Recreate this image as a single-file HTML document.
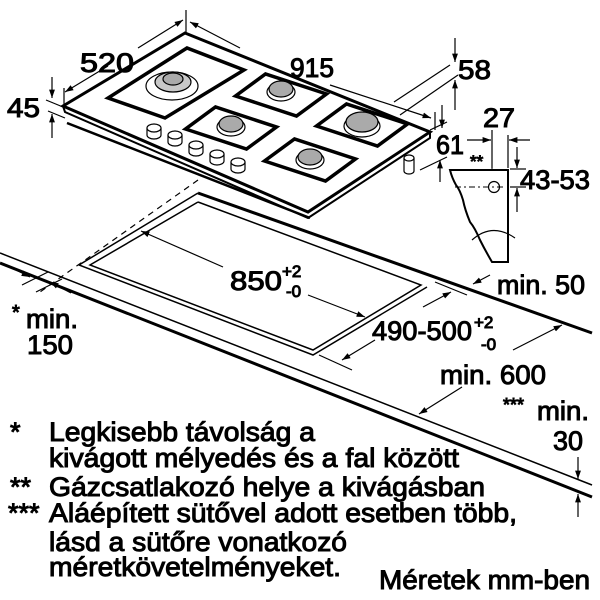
<!DOCTYPE html>
<html><head><meta charset="utf-8"><style>
html,body{margin:0;padding:0;background:#fff;}
svg{display:block;}
text{font-family:"Liberation Sans",sans-serif;fill:#000;}
</style></head><body>
<svg width="600" height="600" viewBox="0 0 600 600" xmlns="http://www.w3.org/2000/svg">
<defs>
<marker id="a" viewBox="0 0 10 10" refX="10" refY="5" markerWidth="7" markerHeight="7" orient="auto"><path d="M0,1.5 L10,5 L0,8.5 z" fill="#000"/></marker>
</defs>
<g fill="none" stroke="#000">
<line x1="0" y1="253" x2="592" y2="485" stroke-width="1.5"/>
<line x1="0" y1="263" x2="592" y2="497" stroke-width="3"/>
<line x1="198" y1="193" x2="592" y2="333" stroke-width="3"/>
<polyline points="198,193 79,265 313,355 427,287" stroke-width="1.5"/>
<polyline points="198,202 90,265 313,350 421,285 198,202" stroke-width="1.5"/>
<line x1="198" y1="180" x2="40" y2="292" stroke-dasharray="6,5" stroke-width="1.2"/>
<polygon points="185,33 430,132 308,212 63,106" stroke-width="3" fill="#fff"/>
<polyline points="63,106 65,112 308,218 430,138 430,132" stroke-width="2"/>
<line x1="67" y1="123" x2="310" y2="218" stroke-width="2.5"/>
<g stroke-width="3.5" fill="none">
<polygon points="108,98 165,118 244,70 187,48"/>
<polygon points="235.5,96 296.5,116 326.5,94 265.5,74"/>
<polygon points="185.5,129 246.5,149 276.5,127 215.5,107"/>
<polygon points="316.5,126 377.5,146 407.5,124 346.5,104"/>
<polygon points="264.5,161 325.5,181 355.5,159 294.5,139"/>
</g>
<g stroke-width="1.2">
<ellipse cx="172" cy="86" rx="26" ry="14"/>
<ellipse cx="173" cy="82" rx="18" ry="10" fill="#c8c8c8"/>
<ellipse cx="173" cy="79" rx="10" ry="6" fill="#aaa"/>
<ellipse cx="281" cy="92" rx="14" ry="9" fill="#fff"/><ellipse cx="281" cy="89" rx="12" ry="8" fill="#aaa"/>
<ellipse cx="231" cy="127" rx="14" ry="9" fill="#fff"/><ellipse cx="231" cy="124" rx="12" ry="8" fill="#aaa"/>
<ellipse cx="362" cy="126" rx="18" ry="11" fill="#fff"/><ellipse cx="362" cy="122" rx="16" ry="10" fill="#aaa"/>
<ellipse cx="310" cy="160" rx="14" ry="9" fill="#fff"/><ellipse cx="310" cy="157" rx="12" ry="8" fill="#aaa"/>
</g>
<g stroke-width="1.2" fill="#fff">
<path d="M147,128 v7 a7,4 0 0 0 14,0 v-7"/><ellipse cx="154" cy="128" rx="7" ry="4"/>
<path d="M168,135 v7 a7,4 0 0 0 14,0 v-7"/><ellipse cx="175" cy="135" rx="7" ry="4"/>
<path d="M189,145 v7 a7,4 0 0 0 14,0 v-7"/><ellipse cx="196" cy="145" rx="7" ry="4"/>
<path d="M210,154 v7 a7,4 0 0 0 14,0 v-7"/><ellipse cx="217" cy="154" rx="7" ry="4"/>
<path d="M231,162 v7 a7,4 0 0 0 14,0 v-7"/><ellipse cx="238" cy="162" rx="7" ry="4"/>
<path d="M404,158 v13 a5,3 0 0 0 10,0 v-13"/><ellipse cx="409" cy="158" rx="5" ry="3"/>
</g>
<g stroke-width="1.2">
<line x1="108" y1="66" x2="65" y2="92" marker-end="url(#a)"/>
<line x1="138" y1="48" x2="183" y2="20" marker-end="url(#a)"/>
<line x1="186" y1="10" x2="186" y2="32"/><line x1="64" y1="88" x2="64" y2="104"/>
<line x1="240" y1="48" x2="190" y2="22" marker-end="url(#a)"/>
<line x1="330" y1="85" x2="431" y2="118" marker-end="url(#a)"/>
<line x1="435" y1="112" x2="435" y2="130"/>
<line x1="52" y1="77" x2="52" y2="98" marker-end="url(#a)"/>
<line x1="52" y1="138" x2="52" y2="114" marker-end="url(#a)"/>
<line x1="46" y1="100" x2="63" y2="107"/><line x1="48" y1="111" x2="65" y2="118"/>
<line x1="455" y1="38" x2="455" y2="62" marker-end="url(#a)"/>
<line x1="455" y1="110" x2="455" y2="80" marker-end="url(#a)"/>
<line x1="394" y1="102" x2="450" y2="65"/><line x1="400" y1="115" x2="458" y2="75"/>
<line x1="442" y1="105" x2="442" y2="128" marker-end="url(#a)"/>
<line x1="440" y1="182" x2="440" y2="160" marker-end="url(#a)"/>
<line x1="430" y1="130" x2="447" y2="122"/><line x1="420" y1="170" x2="447" y2="157"/>
<line x1="467" y1="140" x2="491" y2="140" marker-end="url(#a)"/>
<line x1="530" y1="140" x2="509" y2="140" marker-end="url(#a)"/>
<line x1="492" y1="130" x2="492" y2="168"/>
<line x1="492" y1="168" x2="492" y2="252" stroke-dasharray="8,3,2,3" stroke-width="1"/>
<line x1="508" y1="135" x2="508" y2="168"/>
<line x1="517" y1="147" x2="517" y2="168" marker-end="url(#a)"/>
<line x1="517" y1="212" x2="517" y2="188" marker-end="url(#a)"/>
<line x1="510" y1="169" x2="526" y2="169"/><line x1="510" y1="187" x2="526" y2="187"/>
<path d="M450,170 H508 V262 H492 Q485,250 480,240 Q475,228 470,222 Q465,210 463,200 Q460,190 456,185 Q452,178 450,170 Z" stroke-width="2" fill="#fff"/>
<circle cx="494" cy="187" r="5.5" fill="#fff"/>
<line x1="455" y1="187" x2="506" y2="187" stroke-dasharray="6,3,2,3" stroke-width="1"/>
<path d="M472,240 Q492,222 515,238" stroke-width="1.2"/>
<line x1="223" y1="267" x2="141" y2="231" marker-end="url(#a)"/>
<line x1="308" y1="295" x2="365" y2="317" marker-end="url(#a)"/>
<line x1="423" y1="307" x2="451" y2="292" marker-end="url(#a)"/>
<line x1="375" y1="340" x2="342" y2="360" marker-end="url(#a)"/>
<line x1="435" y1="282" x2="467" y2="295"/><line x1="319" y1="355" x2="352" y2="370"/>
<line x1="490" y1="275" x2="473" y2="284" marker-end="url(#a)"/>
<line x1="513" y1="350" x2="562" y2="325" marker-end="url(#a)"/>
<line x1="462" y1="387" x2="419" y2="414" marker-end="url(#a)"/>
<line x1="8" y1="266" x2="30" y2="277" marker-end="url(#a)"/>
<line x1="71" y1="293" x2="50" y2="282" marker-end="url(#a)"/>
<line x1="22" y1="285" x2="48" y2="272"/><line x1="36" y1="292" x2="62" y2="279"/>
<line x1="578" y1="457" x2="578" y2="479" marker-end="url(#a)"/>
<line x1="578" y1="517" x2="578" y2="494" marker-end="url(#a)"/>
</g>
<g font-size="27">
<text x="80" y="72" textLength="54" lengthAdjust="spacingAndGlyphs">520</text>
<text x="290" y="77" textLength="44" lengthAdjust="spacingAndGlyphs">915</text>
<text x="458" y="79" textLength="33" lengthAdjust="spacingAndGlyphs">58</text>
<text x="7" y="117" textLength="33" lengthAdjust="spacingAndGlyphs">45</text>
<text x="436" y="154" textLength="28" lengthAdjust="spacingAndGlyphs">61</text>
<text x="483" y="127" textLength="32" lengthAdjust="spacingAndGlyphs">27</text>
<text x="470" y="167" font-size="17">**</text>
<text x="520" y="189" textLength="70" lengthAdjust="spacingAndGlyphs">43-53</text>
<text x="230" y="290" textLength="52" lengthAdjust="spacingAndGlyphs">850</text><text x="282" y="277" font-size="17">+2</text><text x="286" y="297" font-size="17">-0</text>
<text x="497" y="294" textLength="88" lengthAdjust="spacingAndGlyphs">min. 50</text>
<text x="372" y="340" textLength="100" lengthAdjust="spacingAndGlyphs">490-500</text><text x="474" y="328" font-size="17">+2</text><text x="481" y="350" font-size="17">-0</text>
<text x="440" y="384" textLength="106" lengthAdjust="spacingAndGlyphs">min. 600</text>
<text x="12" y="319" font-size="20">*</text><text x="26" y="328" textLength="52" lengthAdjust="spacingAndGlyphs">min.</text>
<text x="27" y="354" textLength="46" lengthAdjust="spacingAndGlyphs">150</text>
<text x="503" y="411" font-size="18">***</text><text x="537" y="420" textLength="52" lengthAdjust="spacingAndGlyphs">min.</text>
<text x="553" y="450" textLength="30" lengthAdjust="spacingAndGlyphs">30</text>
<text x="10" y="441">*</text><text x="49" y="441" textLength="266" lengthAdjust="spacingAndGlyphs">Legkisebb távolság a</text>
<text x="49" y="467" textLength="410" lengthAdjust="spacingAndGlyphs">kivágott mélyedés és a fal között</text>
<text x="10" y="496">**</text><text x="49" y="496" textLength="436" lengthAdjust="spacingAndGlyphs">Gázcsatlakozó helye a kivágásban</text>
<text x="8" y="522">***</text><text x="49" y="522" textLength="468" lengthAdjust="spacingAndGlyphs">Aláépített sütővel adott esetben több,</text>
<text x="49" y="551" textLength="298" lengthAdjust="spacingAndGlyphs">lásd a sütőre vonatkozó</text>
<text x="49" y="576" textLength="292" lengthAdjust="spacingAndGlyphs">méretkövetelményeket.</text>
<text x="379" y="589" textLength="211" lengthAdjust="spacingAndGlyphs">Méretek mm-ben</text>
</g>
</svg>
</body></html>
